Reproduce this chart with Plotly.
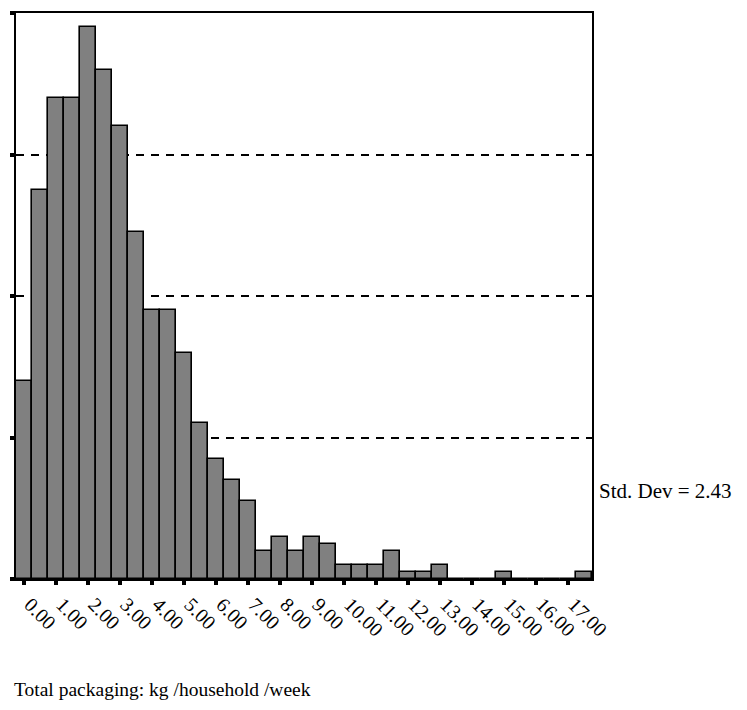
import plotly.graph_objects as go

# Histogram of weekly packaging waste per household (bin width 0.5 kg)
bin_centers = [0.0, 0.5, 1.0, 1.5, 2.0, 2.5, 3.0, 3.5, 4.0, 4.5, 5.0, 5.5,
               6.0, 6.5, 7.0, 7.5, 8.0, 8.5, 9.0, 9.5, 10.0, 10.5, 11.0, 11.5,
               12.0, 12.5, 13.0, 13.5, 14.0, 14.5, 15.0, 15.5, 16.0, 16.5, 17.0, 17.5]
frequencies = [28, 55, 68, 68, 78, 72, 64, 49, 38, 38, 32, 22,
               17, 14, 11, 4, 6, 4, 6, 5, 2, 2, 2, 4,
               1, 1, 2, 0, 0, 0, 1, 0, 0, 0, 0, 1]
x_tick_values = [0, 1, 2, 3, 4, 5, 6, 7, 8, 9, 10, 11, 12, 13, 14, 15, 16, 17]
x_tick_labels = ["0.00", "1.00", "2.00", "3.00", "4.00", "5.00", "6.00", "7.00", "8.00",
                 "9.00", "10.00", "11.00", "12.00", "13.00", "14.00", "15.00", "16.00", "17.00"]
y_tick_values = [0, 20, 40, 60, 80]
std_dev_text = "Std. Dev = 2.43"
x_title = "Total packaging: kg /household /week"

SERIF = "Liberation Serif, Times New Roman, serif"

fig = go.Figure()
fig.add_trace(go.Bar(
    x=bin_centers,
    y=frequencies,
    width=0.5,
    marker=dict(color="#808080", line=dict(color="black", width=1.6)),
    hoverinfo="x+y",
))

fig.update_layout(
    width=747,
    height=710,
    margin=dict(l=16, r=155, t=11, b=131),
    paper_bgcolor="white",
    plot_bgcolor="white",
    showlegend=False,
    bargap=0,
    font=dict(family=SERIF, color="black", size=17),
    xaxis=dict(
        range=[-0.25, 17.75],
        tickmode="array",
        tickvals=x_tick_values,
        ticktext=x_tick_labels,
        tickangle=45,
        ticks="outside",
        ticklen=4,
        tickwidth=4,
        tickcolor="black",
        ticklabelshift=6,
        showgrid=False,
        zeroline=False,
        showline=True,
        linecolor="black",
        linewidth=2,
        mirror=True,
        tickfont=dict(family=SERIF, size=20, color="black"),
    ),
    yaxis=dict(
        range=[0, 80],
        tickmode="array",
        tickvals=y_tick_values,
        showticklabels=False,
        ticks="outside",
        ticklen=4,
        tickwidth=4,
        tickcolor="black",
        showgrid=True,
        gridcolor="black",
        gridwidth=1.6,
        griddash="8px,7px",
        zeroline=False,
        showline=True,
        linecolor="black",
        linewidth=2,
        mirror=True,
    ),
    annotations=[
        dict(text=std_dev_text, xref="paper", yref="paper", x=1.009, y=0.155,
             xanchor="left", yanchor="middle", showarrow=False,
             font=dict(family=SERIF, size=21, color="black")),
        dict(text=x_title, xref="paper", yref="paper", x=-0.0064, y=-0.195,
             xanchor="left", yanchor="middle", showarrow=False,
             font=dict(family=SERIF, size=19.5, color="black")),
    ],
)

fig.write_html("out.html")
